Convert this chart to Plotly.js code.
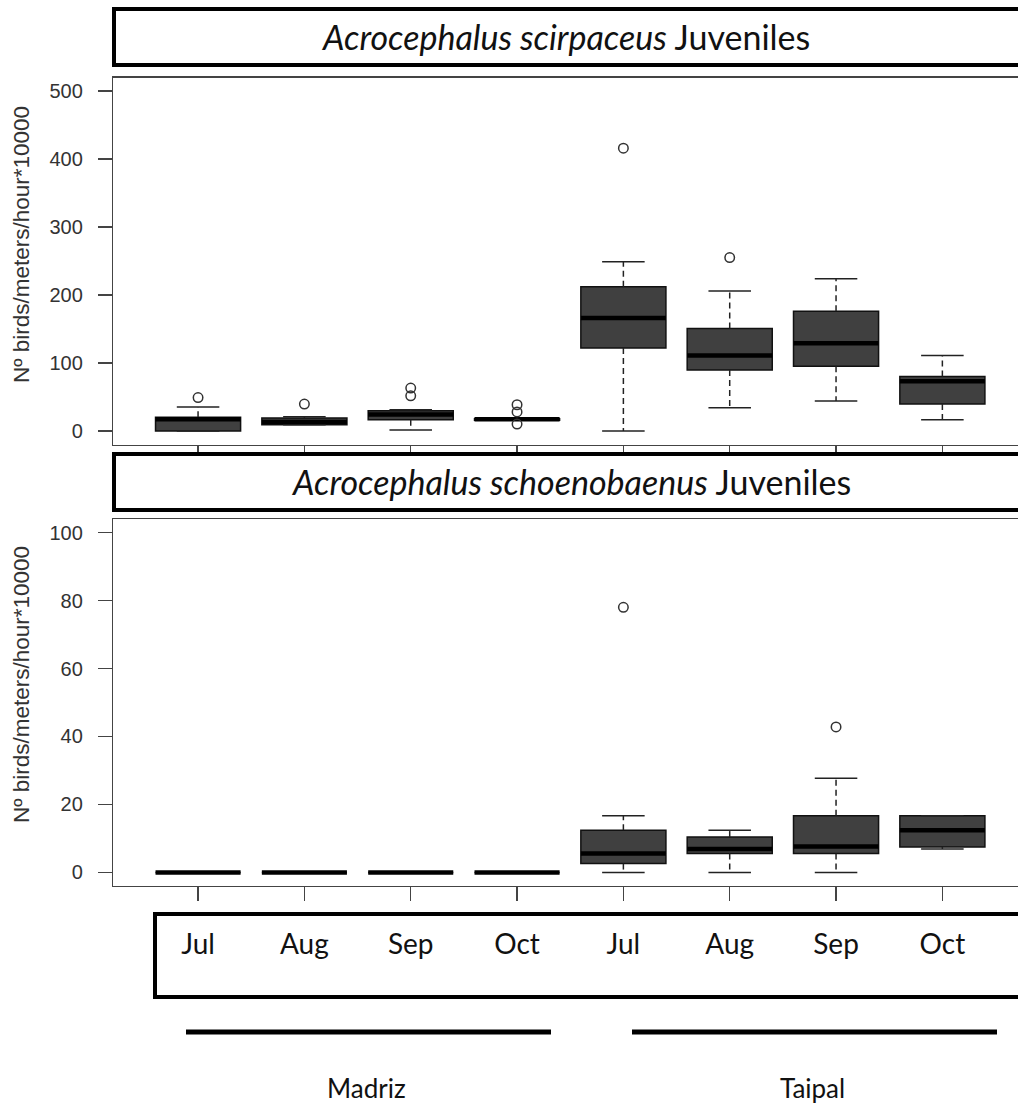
<!DOCTYPE html>
<html>
<head>
<meta charset="utf-8">
<script src="https://cdn.plot.ly/plotly-3.0.1.min.js"></script>
<style>html,body{margin:0;padding:0;background:#fff;overflow:hidden}</style>
</head>
<body>
<div id="chart" style="width:1018px;height:1112px"></div>
<script>
// ---- data ----
const months = ['Jul','Aug','Sep','Oct','Jul','Aug','Sep','Oct'];
const sites  = ['Madriz','Madriz','Madriz','Madriz','Taipal','Taipal','Taipal','Taipal'];
const siteNames = ['Madriz','Taipal'];

// Acrocephalus scirpaceus juveniles
const scirLowerFence = [0, 9, 1.5, 15.5, 0, 34, 44, 16.5];
const scirQ1         = [0, 9, 16.5, 15.5, 122, 89.6, 95, 39.5];
const scirMedian     = [17, 13, 24, 17, 166, 111, 129, 73];
const scirQ3         = [20, 19, 29.7, 18, 212, 150.6, 176, 80];
const scirUpperFence = [35, 21, 31, 18.5, 249, 206, 224, 111];
const scirOutliers   = [[49], [39.5], [51.6, 63], [10, 28, 38.5], [416], [255], [], []];

// Acrocephalus schoenobaenus juveniles
const schoLowerFence = [0, 0, 0, 0, 0, 0, 0, 6.9];
const schoQ1         = [0, 0, 0, 0, 2.6, 5.6, 5.6, 7.5];
const schoMedian     = [0, 0, 0, 0, 5.6, 6.9, 7.6, 12.4];
const schoQ3         = [0, 0, 0, 0, 12.4, 10.4, 16.7, 16.7];
const schoUpperFence = [0, 0, 0, 0, 16.7, 12.4, 27.7, 16.7];
const schoOutliers   = [[], [], [], [], [78], [], [42.8], []];

const scirTicks = [0, 100, 200, 300, 400, 500];
const schoTicks = [0, 20, 40, 60, 80, 100];
const yTitle = 'N\u00ba birds/meters/hour*10000';
const panelTitles = ['<i>Acrocephalus scirpaceus</i> Juveniles', '<i>Acrocephalus schoenobaenus</i> Juveniles'];

// ---- build traces ----
const BOXW = 0.8, CAPW = 0.4;
const pos = months.map((m, i) => i + 1);

function panel(xa, ya, lf, q1, med, q3, uf, outs) {
  const tr = [];
  tr.push({type:'box', x:pos, q1:q1, median:med, q3:q3, lowerfence:q1, upperfence:q3,
    width:BOXW, fillcolor:'#404040', line:{color:'#111', width:1.5}, whiskerwidth:0,
    boxpoints:false, xaxis:xa, yaxis:ya, hoverinfo:'skip', showlegend:false});
  const wx = [], wy = [], cx = [], cy = [], mx = [], my = [], ox = [], oy = [];
  pos.forEach((p, i) => {
    if (uf[i] > q3[i]) { wx.push(p, p, null); wy.push(q3[i], uf[i], null); }
    if (lf[i] < q1[i]) { wx.push(p, p, null); wy.push(q1[i], lf[i], null); }
    cx.push(p - CAPW/2, p + CAPW/2, null, p - CAPW/2, p + CAPW/2, null);
    cy.push(uf[i], uf[i], null, lf[i], lf[i], null);
    mx.push(p - BOXW/2, p + BOXW/2, null); my.push(med[i], med[i], null);
    outs[i].forEach(v => { ox.push(p); oy.push(v); });
  });
  tr.push({type:'scatter', mode:'lines', x:wx, y:wy, line:{color:'#222', width:1.5, dash:'6px,4px'},
    xaxis:xa, yaxis:ya, hoverinfo:'skip', showlegend:false});
  tr.push({type:'scatter', mode:'lines', x:cx, y:cy, line:{color:'#222', width:1.5},
    xaxis:xa, yaxis:ya, hoverinfo:'skip', showlegend:false});
  tr.push({type:'scatter', mode:'lines', x:mx, y:my, line:{color:'#000', width:4.5},
    xaxis:xa, yaxis:ya, hoverinfo:'skip', showlegend:false});
  tr.push({type:'scatter', mode:'markers', x:ox, y:oy,
    marker:{symbol:'circle-open', size:9.5, color:'#333', line:{width:1.5, color:'#333'}},
    xaxis:xa, yaxis:ya, hoverinfo:'skip', showlegend:false});
  return tr;
}

const data = [].concat(
  panel('x', 'y', scirLowerFence, scirQ1, scirMedian, scirQ3, scirUpperFence, scirOutliers),
  panel('x2', 'y2', schoLowerFence, schoQ1, schoMedian, schoQ3, schoUpperFence, schoOutliers)
);

// ---- layout ----
const W = 1018, H = 1112, L = 113;
const px = v => (v - L) / (W - L);       // pixel x -> paper x
const py = v => 1 - v / H;               // pixel y -> paper y
const xRange = [0.2, 0.2 + (W - L) / 106.33];

const tickFont = {family:'Liberation Sans, Arial, sans-serif', size:20, color:'#333'};
const lblFont = {family:'Lato, sans-serif', size:28, color:'#111'};
const titleFont = {family:'Lato, sans-serif', size:34, color:'#111'};
const siteFont = {family:'Lato, sans-serif', size:26, color:'#111'};
const yTitleFont = {family:'Liberation Sans, Arial, sans-serif', size:22.5, color:'#333'};

function xAxis(anchor, labels) {
  return {anchor:anchor, domain:[0,1], range:xRange, tickmode:'array', tickvals:pos,
    ticktext: labels ? months : pos.map(() => ''), showticklabels: !!labels,
    ticks:'outside', ticklen: labels ? 14 : 8, tickwidth:1.2, tickcolor:'#444',
    ticklabelstandoff: labels ? 19 : 0,
    tickfont: lblFont, showline:true, linecolor:'#444', linewidth:1.2, mirror:true,
    showgrid:false, zeroline:false, fixedrange:true};
}
function yAxis(anchor, dom, range, ticks) {
  return {anchor:anchor, domain:dom, range:range, tickmode:'array', tickvals:ticks,
    ticks:'outside', ticklen:14, tickwidth:1.2, tickcolor:'#444', tickfont:tickFont,
    ticklabelstandoff:11,
    showline:true, linecolor:'#444', linewidth:1.2, showgrid:false, zeroline:false,
    fixedrange:true};
}

const boxLine = {color:'#000', width:4};
const layout = {
  width:W, height:H, margin:{l:L, r:0, t:0, b:0},
  paper_bgcolor:'#fff', plot_bgcolor:'#fff', showlegend:false,
  xaxis: xAxis('y', false),
  yaxis: yAxis('x', [py(444.5), py(77.5)], [-20, 520], scirTicks),
  xaxis2: xAxis('y2', true),
  yaxis2: yAxis('x2', [py(886), py(519)], [-4, 104], schoTicks),
  shapes: [
    {type:'rect', xref:'paper', yref:'paper', x0:px(114), x1:1.05, y0:py(65), y1:py(9), line:boxLine},
    {type:'rect', xref:'paper', yref:'paper', x0:px(114), x1:1.05, y0:py(510), y1:py(454), line:boxLine},
    {type:'rect', xref:'paper', yref:'paper', x0:px(155), x1:1.05, y0:py(997), y1:py(914), line:boxLine},
    {type:'line', xref:'paper', yref:'paper', x0:px(186), x1:px(551), y0:py(1032), y1:py(1032), line:{color:'#000', width:5}},
    {type:'line', xref:'paper', yref:'paper', x0:px(632), x1:px(997), y0:py(1032), y1:py(1032), line:{color:'#000', width:5}}
  ],
  annotations: [
    {xref:'paper', yref:'paper', x:px(565), y:py(36), text:panelTitles[0], showarrow:false, font:titleFont, xanchor:'center', yanchor:'middle'},
    {xref:'paper', yref:'paper', x:px(571), y:py(481), text:panelTitles[1], showarrow:false, font:titleFont, xanchor:'center', yanchor:'middle'},
    {xref:'paper', yref:'paper', x:px(366), y:py(1088), text:siteNames[0], showarrow:false, font:siteFont, xanchor:'center', yanchor:'middle'},
    {xref:'paper', yref:'paper', x:px(812), y:py(1088), text:siteNames[1], showarrow:false, font:siteFont, xanchor:'center', yanchor:'middle'},
    {xref:'paper', yref:'paper', x:px(22), y:py(245), text:yTitle, textangle:-90, showarrow:false, font:yTitleFont, xanchor:'center', yanchor:'middle'},
    {xref:'paper', yref:'paper', x:px(22), y:py(685), text:yTitle, textangle:-90, showarrow:false, font:yTitleFont, xanchor:'center', yanchor:'middle'}
  ]
};

Plotly.newPlot('chart', data, layout, {staticPlot:true, displayModeBar:false});
</script>
</body>
</html>
